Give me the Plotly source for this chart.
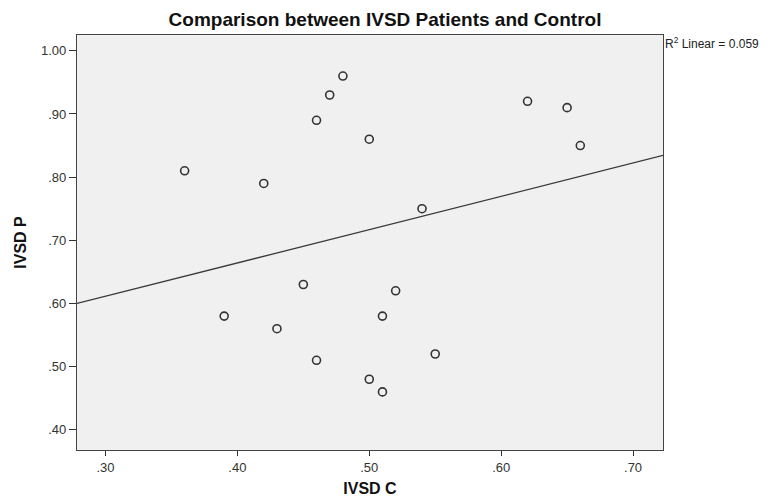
import numpy as np
import plotly.graph_objects as go

# Data
ivsd_c = [0.36, 0.39, 0.42, 0.43, 0.45, 0.46, 0.46, 0.47, 0.48, 0.50,
          0.50, 0.51, 0.51, 0.52, 0.54, 0.55, 0.62, 0.65, 0.66]
ivsd_p = [0.81, 0.58, 0.79, 0.56, 0.63, 0.89, 0.51, 0.93, 0.96, 0.86,
          0.48, 0.58, 0.46, 0.62, 0.75, 0.52, 0.92, 0.91, 0.85]

x_tick_vals = [0.30, 0.40, 0.50, 0.60, 0.70]
x_tick_text = [".30", ".40", ".50", ".60", ".70"]
y_tick_vals = [0.40, 0.50, 0.60, 0.70, 0.80, 0.90, 1.00]
y_tick_text = [".40", ".50", ".60", ".70", ".80", ".90", "1.00"]

x_range = [0.2784, 0.7227]
y_range = [0.368, 1.025]

slope, intercept = np.polyfit(ivsd_c, ivsd_p, 1)
line_x = np.array(x_range)
line_y = slope * line_x + intercept

font_family = "Liberation Sans, Arial, sans-serif"

W, H = 770, 499
fig = go.Figure()
fig.add_trace(go.Scatter(
    x=line_x, y=line_y, mode="lines",
    line=dict(color="#3a3a3a", width=1.3),
    hoverinfo="skip", showlegend=False,
))
fig.add_trace(go.Scatter(
    x=ivsd_c, y=ivsd_p, mode="markers",
    marker=dict(symbol="circle-open", size=8, color="#333333",
                line=dict(color="#333333", width=1.6)),
    showlegend=False,
))

fig.update_layout(
    width=W, height=H,
    margin=dict(l=69, r=115, t=27, b=57, autoexpand=False),
    paper_bgcolor="white",
    plot_bgcolor="#f0f0f0",
    font=dict(family=font_family, color="#222222", size=13),
    title=dict(text="<b>Comparison between IVSD Patients and Control</b>",
               x=377 / W, xanchor="center",
               y=1 - 11 / H, yanchor="middle", automargin=False,
               font=dict(size=19, color="#111111", family=font_family)),
    xaxis=dict(
        range=x_range, tickvals=x_tick_vals, ticktext=x_tick_text,
        showgrid=False, zeroline=False, automargin=False,
        showline=True, linecolor="#444444", linewidth=1.2, mirror=True,
        ticks="outside", ticklen=5, tickwidth=1.2, tickcolor="#333333",
        tickfont=dict(size=13, color="#333333"),
        title=dict(text="<b>IVSD C</b>", font=dict(size=16, color="#111111"),
                   standoff=9),
    ),
    yaxis=dict(
        range=y_range, tickvals=y_tick_vals, ticktext=y_tick_text,
        showgrid=False, zeroline=False, automargin=False,
        showline=True, linecolor="#444444", linewidth=1.2, mirror=True,
        ticks="outside", ticklen=7, tickwidth=1.2, tickcolor="#333333",
        tickfont=dict(size=13, color="#333333"),
        title=dict(text="<b>IVSD P</b>", font=dict(size=16, color="#111111"),
                   standoff=10),
    ),
    annotations=[dict(
        text="R<sup>2</sup> Linear = 0.059",
        xref="paper", yref="paper", x=1.0, y=1.0,
        xanchor="left", yanchor="top", xshift=0, yshift=2,
        showarrow=False, font=dict(size=12, color="#222222"),
    )],
)

fig.write_html("out.html")
